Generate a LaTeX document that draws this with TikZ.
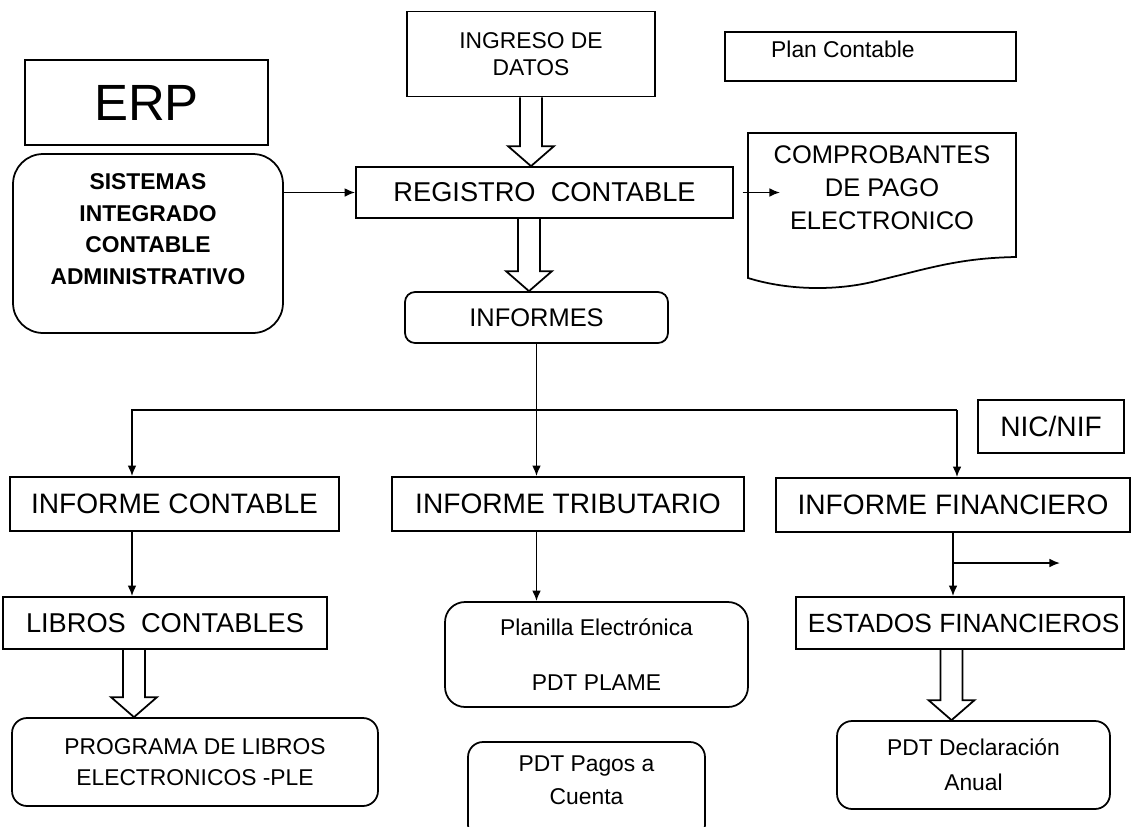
\documentclass[tikz,border=0pt]{standalone}
\usepackage{fontspec}
\setmainfont{Liberation Sans}
\usetikzlibrary{calc, arrows.meta}

% hollow block arrow from the bottom of #1 to the top of #2, shifted by #3
\newcommand{\fatarrow}[3]{%
	\draw [fat] ($(#1.south) + (#3 - 11, 0)$)
		-- ($(#1.south |- #2.north) + (#3 - 11, -20)$)
		-- ($(#1.south |- #2.north) + (#3 - 23, -20)$)
		-- ($(#1.south |- #2.north) + (#3, 0)$)
		-- ($(#1.south |- #2.north) + (#3 + 23, -20)$)
		-- ($(#1.south |- #2.north) + (#3 + 11, -20)$)
		-- ($(#1.south) + (#3 + 11, 0)$);
}

\begin{document}
\begin{tikzpicture}[x = 0.02cm, y = -0.02cm, > = {Latex[length = 6pt, width = 5pt]},
	box/.style = {draw, line width = 1pt, inner sep = 0pt, align = center},
	rbox/.style = {box, rounded corners = 0.3cm},
	fat/.style = {draw, line width = 1pt, line join = miter},
	link/.style = {line width = 1pt}]

	\useasboundingbox (0, 0) rectangle (1133, 826);

	% Top row
	
	\node [box, minimum width = 4.86cm, minimum height = 1.70cm, font = \fontsize{29}{34}\selectfont] (erp) at (146.5, 102.5) {ERP};
	\node [box, minimum width = 4.96cm, minimum height = 1.70cm, font = \fontsize{13}{15.3}\selectfont] (ingreso) at (531, 54) {INGRESO DE\\DATOS};
	\node [box, minimum width = 5.82cm, minimum height = 0.98cm] (plan) at (870.5, 56.5) {};
	\node [anchor = west, font = \fontsize{13}{15}\selectfont] (plantxt) at (765, 49) {Plan Contable};
	
	% Registro
	
	\node [rbox, rounded corners = 0.6cm, minimum width = 5.40cm, minimum height = 3.58cm] (sis) at (148, 243.5) {};
	\node [align = center, font = \bfseries\fontsize{13}{18}\selectfont] (sistxt) at (148, 229) {SISTEMAS\\INTEGRADO\\CONTABLE\\ADMINISTRATIVO};
	\node [box, minimum width = 7.54cm, minimum height = 1.02cm, font = \fontsize{15.5}{18}\selectfont] (reg) at (544.5, 192.5) {REGISTRO\ \ CONTABLE};
	
	\draw [link] (748, 133) -- (1016, 133) -- (1016, 257)
		.. controls (960, 258) and (930, 268) .. (880, 280)
		.. controls (840, 291) and (790, 291) .. (748, 278) -- cycle;
	\node [align = center, font = \fontsize{14.5}{18.7}\selectfont] (comp) at (882, 188) {COMPROBANTES\\DE PAGO\\ELECTRONICO};
	\coordinate (comptip) at (780, 192.5);
	
	\node [rbox, rounded corners = 0.2cm, minimum width = 5.26cm, minimum height = 1.02cm, font = \fontsize{14.5}{17}\selectfont] (informes) at (536.5, 317.5) {INFORMES};
	
	% Informes
	
	\node [box, minimum width = 2.92cm, minimum height = 1.06cm, font = \fontsize{16}{19}\selectfont] (nic) at (1051, 426.5) {NIC/NIF};
	\node [box, minimum width = 6.58cm, minimum height = 1.08cm, font = \fontsize{16}{19}\selectfont] (infcont) at (174.5, 504) {INFORME CONTABLE};
	\node [box, minimum width = 7.04cm, minimum height = 1.08cm, font = \fontsize{16}{19}\selectfont] (inftrib) at (568, 504) {INFORME TRIBUTARIO};
	\node [box, minimum width = 7.08cm, minimum height = 1.08cm, font = \fontsize{16}{19}\selectfont] (inffin) at (953, 505) {INFORME FINANCIERO};
	
	\coordinate (busl) at (132, 410);
	\coordinate (busr) at (957, 410);
	\coordinate (finout) at (1060, 563);
	
	% Bottom rows
	
	\node [box, minimum width = 6.48cm, minimum height = 1.04cm, font = \fontsize{15.5}{18}\selectfont] (libros) at (165, 623) {LIBROS\ \ CONTABLES};
	\node [rbox, rounded corners = 0.4cm, minimum width = 6.06cm, minimum height = 2.10cm, font = \fontsize{13}{31}\selectfont] (planilla) at (596.5, 654.5) {Planilla Electrónica\\PDT PLAME};
	\node [box, minimum width = 6.56cm, minimum height = 1.04cm, font = \fontsize{15}{18}\selectfont] (estados) at (960, 623) {\ ESTADOS FINANCIEROS};
	
	\node [rbox, minimum width = 7.32cm, minimum height = 1.76cm, font = \fontsize{13}{18}\selectfont] (ple) at (195, 762) {PROGRAMA DE LIBROS\\ELECTRONICOS -PLE};
	\node [rbox, minimum width = 4.74cm, minimum height = 1.96cm] (pagos) at (586.5, 791) {};
	\node [align = center, font = \fontsize{13}{19}\selectfont] (pagostxt) at (586.5, 780) {PDT Pagos a\\Cuenta};
	\node [rbox, minimum width = 5.46cm, minimum height = 1.76cm, font = \fontsize{13}{20}\selectfont] (decl) at (973.5, 765) {PDT Declaración\\Anual};
	
	% Arrows
	
	\draw [link, ->] (reg.west -| sis.east) -- (reg.west);
	\draw [link, ->, shorten <= 5] (reg.east) -- (comptip);
	\fatarrow{ingreso}{reg}{0}
	\fatarrow{reg}{informes}{-15.5}
	\draw [link, ->] (informes.south) -- (informes.south |- inftrib.north);
	\draw [link, ->] (busr) -- (busl) -- (busl |- infcont.north);
	\draw [link, ->] (busr) -- (busr |- inffin.north);
	\draw [link, ->] (busl |- infcont.south) -- (busl |- libros.north);
	\draw [link, ->] (informes.south |- inftrib.south) -- (informes.south |- planilla.north);
	\draw [link, ->] (inffin.south) -- (inffin.south |- estados.north);
	\draw [link, ->] (inffin.south |- finout) -- (finout);
	\fatarrow{libros}{ple}{-31}
	\fatarrow{estados}{decl}{-8.5}

\end{tikzpicture}
\end{document}
